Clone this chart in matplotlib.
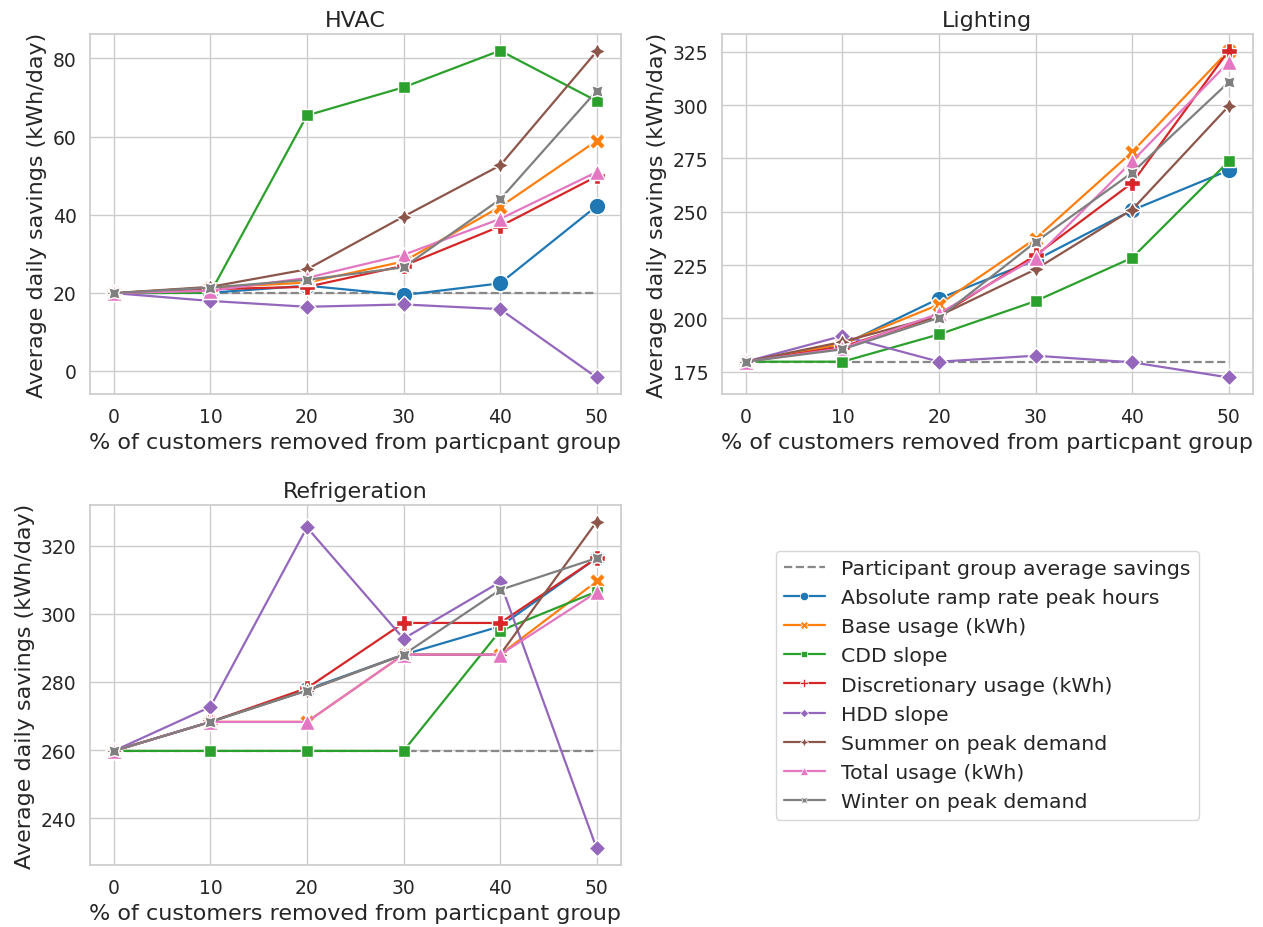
import numpy as np
import matplotlib
matplotlib.use("Agg")
import matplotlib.pyplot as plt
import seaborn as sns
from matplotlib.lines import Line2D

# removal percentages on x axis
pct_removed = [0, 10, 20, 30, 40, 50]

series_names = [
    "Absolute ramp rate peak hours",
    "Base usage (kWh)",
    "CDD slope",
    "Discretionary usage (kWh)",
    "HDD slope",
    "Summer on peak demand",
    "Total usage (kWh)",
    "Winter on peak demand",
]

# HVAC savings (kWh/day)
hvac_avg = 19.9
hvac_ramp = [19.9, 20.0, 21.8, 19.4, 22.4, 42.2]
hvac_base = [19.9, 21.3, 22.6, 28.0, 42.0, 58.9]
hvac_cdd = [19.9, 20.0, 65.4, 72.6, 82.0, 69.1]
hvac_disc = [19.9, 20.9, 21.5, 26.9, 37.0, 49.8]
hvac_hdd = [19.9, 17.9, 16.4, 17.0, 15.8, -1.7]
hvac_summer = [19.9, 21.5, 26.0, 39.5, 52.6, 81.8]
hvac_total = [19.9, 20.5, 23.8, 29.7, 38.9, 50.9]
hvac_winter = [19.9, 21.3, 23.3, 26.5, 43.9, 71.7]
hvac_yticks = [0, 20, 40, 60, 80]

# Lighting savings (kWh/day)
light_avg = 179.7
light_ramp = [179.7, 187.5, 209.3, 227.3, 250.7, 269.4]
light_base = [179.7, 188.0, 206.5, 237.4, 278.0, 325.5]
light_cdd = [179.7, 179.7, 192.5, 208.1, 228.4, 273.6]
light_disc = [179.7, 186.7, 201.2, 229.6, 263.5, 325.5]
light_hdd = [179.7, 191.8, 179.7, 182.5, 179.4, 172.3]
light_summer = [179.7, 189.0, 201.2, 223.0, 251.0, 299.5]
light_total = [179.7, 186.0, 202.3, 228.4, 273.6, 320.1]
light_winter = [179.7, 185.5, 200.3, 235.8, 268.3, 310.7]
light_yticks = [175, 200, 225, 250, 275, 300, 325]

# Refrigeration savings (kWh/day)
refr_avg = 259.8
refr_ramp = [259.8, 268.3, 277.8, 288.0, 296.3, 316.3]
refr_base = [259.8, 268.3, 268.3, 288.0, 288.0, 309.5]
refr_cdd = [259.8, 259.8, 259.8, 259.8, 295.0, 306.5]
refr_disc = [259.8, 268.3, 278.2, 297.3, 297.3, 316.3]
refr_hdd = [259.8, 272.7, 325.3, 292.7, 309.3, 231.2]
refr_summer = [259.8, 268.3, 277.5, 288.0, 288.0, 327.0]
refr_total = [259.8, 268.3, 268.3, 288.0, 288.0, 306.3]
refr_winter = [259.8, 268.3, 277.5, 288.0, 307.0, 316.3]
refr_yticks = [240, 260, 280, 300, 320]

panels = [
    ("HVAC", hvac_avg, hvac_yticks,
     [hvac_ramp, hvac_base, hvac_cdd, hvac_disc, hvac_hdd,
      hvac_summer, hvac_total, hvac_winter]),
    ("Lighting", light_avg, light_yticks,
     [light_ramp, light_base, light_cdd, light_disc, light_hdd,
      light_summer, light_total, light_winter]),
    ("Refrigeration", refr_avg, refr_yticks,
     [refr_ramp, refr_base, refr_cdd, refr_disc, refr_hdd,
      refr_summer, refr_total, refr_winter]),
]

sns.set_theme(style="whitegrid")
plt.rcParams["font.family"] = ["DejaVu Sans"]

colors = sns.color_palette("tab10", 8)
markers = ["o", "X", (4, 0, 45), "P", (4, 0, 0), (4, 1, 0), "^", (4, 1, 45)]

fig, axes = plt.subplots(2, 2, figsize=(12.63, 9.28), dpi=100)
fig.subplots_adjust(left=0.071, right=0.992, top=0.962, bottom=0.067,
                    hspace=0.31, wspace=0.19)

for ax, (title, avg, yticks, vals) in zip(axes.flat, panels):
    ax.plot(pct_removed, [avg] * len(pct_removed), color="#888888",
            linestyle="--", linewidth=1.6, zorder=1)
    for i, v in enumerate(vals):
        ax.plot(pct_removed, v, color=colors[i], marker=markers[i],
                markersize=12, markeredgecolor="white", markeredgewidth=1,
                linewidth=1.6, zorder=2 + i)
    ax.set_title(title, fontsize=16)
    ax.set_xlabel("% of customers removed from particpant group", fontsize=16)
    ax.set_ylabel("Average daily savings (kWh/day)", fontsize=16)
    ax.set_xticks(pct_removed)
    ax.set_yticks(yticks)
    ax.tick_params(labelsize=13.5)

axes[1, 1].axis("off")
handles = [Line2D([], [], color="#888888", linestyle="--", linewidth=1.6)]
for i in range(len(series_names)):
    handles.append(Line2D([], [], color=colors[i], marker=markers[i],
                          markersize=6, markeredgecolor="white",
                          markeredgewidth=0.5, linewidth=1.6))
axes[1, 1].legend(handles, ["Participant group average savings"] + series_names,
                  loc="center", fontsize=14.7, frameon=True)

fig.savefig("out.png", dpi=100)
